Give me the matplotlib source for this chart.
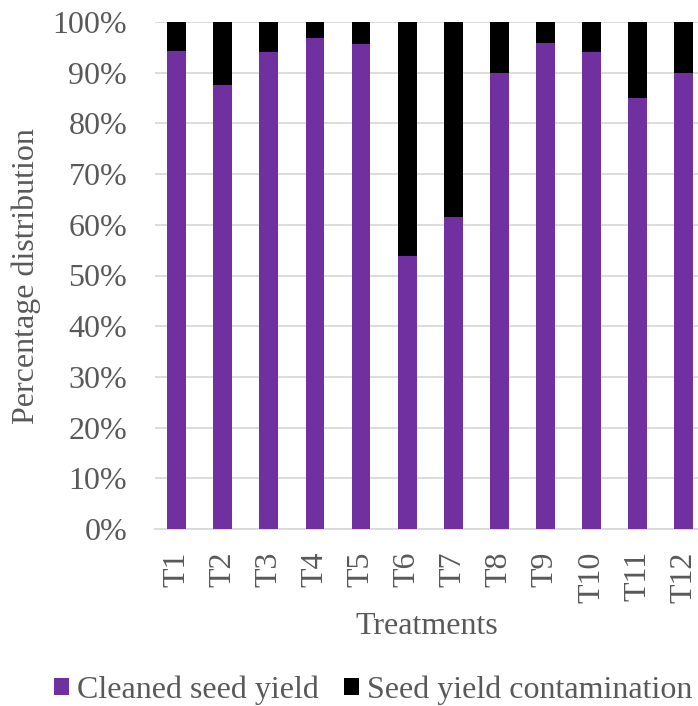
import matplotlib.pyplot as plt
import numpy as np
from matplotlib.ticker import PercentFormatter

categories = ["T1", "T2", "T3", "T4", "T5", "T6", "T7", "T8", "T9", "T10", "T11", "T12"]
cleaned = [94.3, 87.5, 94.1, 96.8, 95.7, 53.9, 61.6, 90.0, 95.9, 94.0, 85.1, 89.9]
contamination = [100 - v for v in cleaned]

plt.rcParams['font.family'] = ['Liberation Serif', 'DejaVu Serif']
grey = '#595959'
purple = '#7030A0'
fs = 23

fig = plt.figure(figsize=(6.98, 7.06), dpi=100)
ax = fig.add_axes([155/698, 1 - 529/706, 543/698, 507/706])

x = np.arange(len(categories))
w = 0.41
ax.bar(x, cleaned, width=w, color=purple, label='Cleaned seed yield', zorder=3)
ax.bar(x, contamination, width=w, bottom=cleaned, color='black', label='Seed yield contamination', zorder=3)

ax.set_xlim(-0.47, 11.31)
ax.set_ylim(0, 100)
ax.set_yticks(np.arange(0, 101, 10))
ax.yaxis.set_major_formatter(PercentFormatter(decimals=0))
ax.grid(axis='y', color='#d9d9d9', linewidth=1.3, zorder=0)
for s in ['top', 'right', 'left']:
    ax.spines[s].set_visible(False)
ax.spines['bottom'].set_color('#d9d9d9')
ax.spines['bottom'].set_linewidth(1.3)
ax.tick_params(axis='both', length=0, labelsize=fs, colors=grey)
ax.set_xticks(x)
ax.set_xticklabels(categories, rotation=90)
ax.tick_params(axis='x', pad=16)
ax.tick_params(axis='y', pad=20)

fig.text(426.5/698, 1 - 627/706, 'Treatments', fontsize=fs, color=grey, ha='center', va='center')
fig.text(26/698, 1 - 276.5/706, 'Percentage distribution', fontsize=fs, color=grey,
         ha='center', va='center', rotation=90)

fig.legend(loc='center', bbox_to_anchor=(373.5/698, 1 - 690/706), ncol=2, frameon=False,
           fontsize=fs, labelcolor=grey, handlelength=0.47, handleheight=0.47,
           handletextpad=0.25, columnspacing=0.78, borderpad=0, borderaxespad=0)

fig.savefig('out.png', dpi=100)
